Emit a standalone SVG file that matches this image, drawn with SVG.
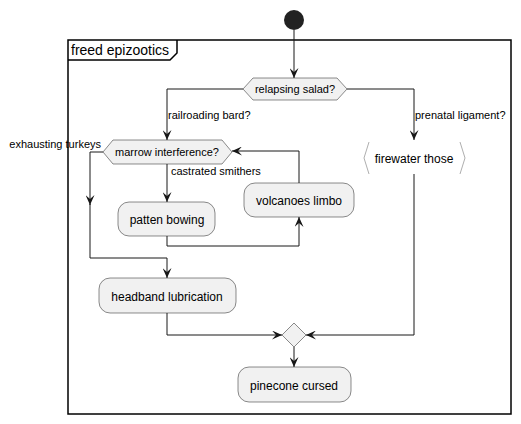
<svg xmlns="http://www.w3.org/2000/svg" width="521" height="424" viewBox="0 0 521 424">
<style>
text{font-family:"Liberation Sans",Arial,sans-serif;fill:#000}
.n{font-size:12px;text-anchor:middle}
.h{font-size:11px;text-anchor:middle}
.l{font-size:11px}
.box{fill:#F1F1F1;stroke:#181818;stroke-width:0.5}
.c{fill:none;stroke:#181818;stroke-width:1}
</style>
<defs>
<marker id="a" viewBox="0 0 10 9" refX="10" refY="4.5" markerWidth="10" markerHeight="9" markerUnits="userSpaceOnUse" orient="auto">
<path d="M0,0 L10,4.5 L0,9 L4,4.5 Z" fill="#181818"/>
</marker>
</defs>
<rect width="521" height="424" fill="#fff"/>
<g id="frame">
<rect x="68" y="40" width="443" height="374" fill="none" stroke="#000" stroke-width="1.5"/>
<path d="M68,60 H170 L177,53 V40" fill="none" stroke="#000" stroke-width="1.5"/>
<text x="71" y="55" style="font-size:14px">freed epizootics</text>
</g>
<g id="connectors">
<path class="c" d="M294,30 V78" marker-end="url(#a)"/>
<path class="c" d="M243,89 H167 V140" marker-end="url(#a)"/>
<path class="c" d="M347,89 H414 V140" marker-end="url(#a)"/>
<path class="c" d="M103,152 H90 V205" marker-end="url(#a)"/>
<path class="c" d="M90,204 V258 H167 V278" marker-end="url(#a)"/>
<path class="c" d="M167,164 V202" marker-end="url(#a)"/>
<path class="c" d="M167,236 V246 H299 V217" marker-end="url(#a)"/>
<path class="c" d="M299,183 V151 H232" marker-end="url(#a)"/>
<path class="c" d="M167,313 V335 H282" marker-end="url(#a)"/>
<path class="c" d="M414,174 V335 H306" marker-end="url(#a)"/>
<path class="c" d="M294,347 V367" marker-end="url(#a)"/>
<text class="l" x="168" y="119">railroading bard?</text>
<text class="l" x="415" y="119">prenatal ligament?</text>
<text class="l" x="101" y="148" text-anchor="end">exhausting turkeys</text>
<text class="l" x="171" y="175">castrated smithers</text>
</g>
<g id="start"><circle cx="294" cy="20" r="10" fill="#222"/></g>
<g id="relapsing">
<polygon class="box" points="243,89 253,78 337,78 347,89 337,100 253,100"/>
<text class="h" x="295" y="93">relapsing salad?</text>
</g>
<g id="marrow">
<polygon class="box" points="103,152 113,140 222,140 232,152 222,164 113,164"/>
<text class="h" x="167" y="156">marrow interference?</text>
</g>
<g id="firewater">
<path d="M369,142 L364,158 L369,174 M460,142 L465,158 L460,174" fill="none" stroke="#999" stroke-width="0.8"/>
<text class="n" x="414" y="163">firewater those</text>
</g>
<g id="patten">
<rect class="box" x="118" y="202" width="97" height="34" rx="11"/>
<text class="n" x="167" y="224">patten bowing</text>
</g>
<g id="volcanoes">
<rect class="box" x="244" y="183" width="110" height="34" rx="11"/>
<text class="n" x="299" y="205">volcanoes limbo</text>
</g>
<g id="headband">
<rect class="box" x="99" y="278" width="137" height="35" rx="11"/>
<text class="n" x="167" y="301">headband lubrication</text>
</g>
<g id="merge">
<polygon class="box" points="294,323 306,335 294,347 282,335"/>
</g>
<g id="pinecone">
<rect class="box" x="238" y="367" width="113" height="35" rx="11"/>
<text class="n" x="294" y="390">pinecone cursed</text>
</g>
</svg>
